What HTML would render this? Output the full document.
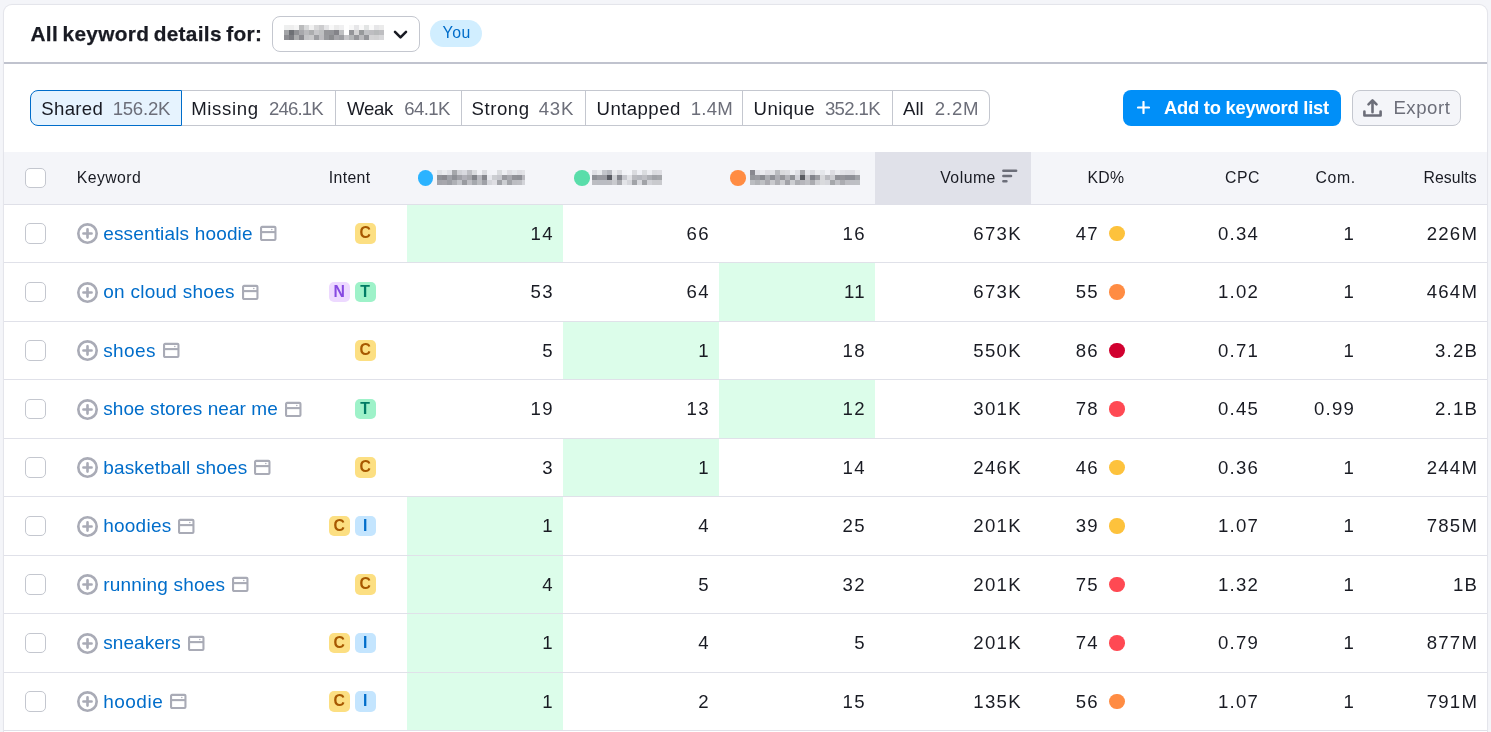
<!DOCTYPE html>
<html lang="en">
<head>
<meta charset="utf-8">
<title>Keyword Gap</title>
<style>
*{box-sizing:border-box;margin:0;padding:0}
html,body{width:1491px;height:732px;overflow:hidden;background:#f4f5f9}
body{font-family:"Liberation Sans",sans-serif;color:#191b23;position:relative}
.card{position:absolute;left:4px;top:5px;width:1483.4px;height:760px;background:#fff;border-radius:8px;box-shadow:0 0 0 1px #e4e5eb,0 0 2px 0 rgba(25,27,35,.08)}
.abs{position:absolute;white-space:nowrap}
.hline{position:absolute;left:0;top:57px;width:100%;height:2px;background:#c0c3ce}
.title{font-weight:700;font-size:20.8px;line-height:24px;letter-spacing:.32px;word-spacing:-1.6px;-webkit-text-stroke:.25px #191b23}
.sel{position:absolute;left:268px;top:11px;width:148px;height:36px;border:1px solid #c4c7cf;border-radius:8px;background:#fff}
.blur{position:absolute;display:block;color:#191b23;filter:url(#px);white-space:nowrap;overflow:hidden}
.you{position:absolute;left:426px;top:15px;width:52px;height:26.6px;border-radius:14px;background:#d1eeff}
.tab{position:absolute;top:85px;height:36px;border:1px solid #c4c7cf;border-left:none;background:#fff}
.tab.first{border:1px solid #006dca;background:#e6f3fe;border-radius:8px 0 0 8px}
.tab.last{border-radius:0 8px 8px 0}
.tt{position:absolute;top:5.7px;font-size:18.6px;line-height:24px;white-space:nowrap}
.tt.n{color:#6c6e79}
.btn{position:absolute;top:85px;height:36px;border-radius:8px}
.btn.add{left:1119px;width:218px;background:#008ff8;color:#fff;font-weight:700}
.btn.exp{left:1348px;width:109px;background:#f4f5f9;border:1px solid #c4c7cf;color:#6c6e79}
.btn svg{position:absolute}
.thead{position:absolute;left:0;top:147px;width:1483.4px;height:53px;background:#f4f5f9;border-bottom:1px solid #dfe0e8}
.th{position:absolute;top:14px;font-size:15.8px;line-height:24px;white-space:nowrap}
.volbg{position:absolute;left:871px;top:0;width:156px;height:52px;background:#e0e1e9}
.row{position:absolute;left:0;width:1483.4px;display:flex;border-bottom:1px solid #e0e1e9}
.c{height:100%;display:flex;align-items:center;flex:none;white-space:nowrap;position:relative}
.cb{width:62.6px}
.kw{width:252px;padding-left:10.4px;font-size:19px;line-height:24px;letter-spacing:.18px}
.intent{width:88.4px}
.num{font-size:18.6px;letter-spacing:1.25px;justify-content:flex-end;padding-right:9.2px;line-height:24px}
.num span{position:relative;top:.1px}
.pos{width:156px}
.vol{width:156px}
.kd{width:104.4px;padding-right:0}
.cpc{width:133px}
.com{width:96px}
.res{width:123px}
.row .hi{background:#dcfdea}
.chk{position:absolute;left:21px;top:50%;margin-top:-10.4px;width:20.6px;height:20.6px;border:1px solid #c4c7cf;border-radius:5px;background:#fff}
.plus{width:21px;height:21px;flex:none;margin-right:5.2px}
.serp{width:21px;height:21px;flex:none;margin-left:5px}
.lnk{color:#006dca;position:relative;top:0}
.ins{position:absolute;right:31.4px;top:50%;margin-top:-10.4px;display:flex;gap:5.2px}
.in{width:20.8px;height:20.8px;border-radius:5px;font-size:15.8px;font-weight:700;line-height:19.6px;text-align:center;letter-spacing:0}
.in-C{background:#fcdf82;color:#a75800}
.in-N{background:#edd9ff;color:#8649e1}
.in-T{background:#9ef2c9;color:#007c65}
.in-I{background:#c4e5fe;color:#006dca}
.dot{width:15.6px;height:15.6px;border-radius:50%;margin-left:10.5px;margin-right:10.4px;flex:none}
.k-y{background:#fdc23c}.k-o{background:#ff8c43}.k-r{background:#ff4953}.k-d{background:#d1002f}
.cd{position:absolute;top:18px;width:15.6px;height:15.6px;border-radius:50%}
</style>
</head>
<body>
<svg width="0" height="0" style="position:absolute"><defs><filter id="px" x="0" y="0" width="1" height="1" color-interpolation-filters="sRGB"><feGaussianBlur stdDeviation="1.7" result="b"/><feFlood x="2" y="2" width="1" height="1"/><feComposite width="5" height="5"/><feTile result="t"/><feComposite in="b" in2="t" operator="in"/><feMorphology operator="dilate" radius="2"/><feComponentTransfer><feFuncA type="linear" slope="1.25"/></feComponentTransfer></filter></defs></svg>
<div class="card">
<div class="abs title" style="left:26.5px;top:16.5px">All keyword details for:</div>
<div class="sel"><span class="blur" style="left:11px;top:3px;width:100px;height:30px;font-size:18.2px;line-height:27px;letter-spacing:1.1px">adidas.com</span><svg style="position:absolute;left:119.5px;top:12.7px;width:15px;height:10px" viewBox="0 0 15 10"><path d="M2 1.9l5.5 5.5L13 1.9" fill="none" stroke="#191b23" stroke-width="2.6" stroke-linecap="round" stroke-linejoin="round"/></svg></div>
<div class="you"><span class="abs" style="left:12.6px;top:1px;font-size:15.8px;line-height:24px;color:#006dca;letter-spacing:.5px">You</span></div>
<div class="hline"></div>
<div class="tab first" style="left:26.0px;width:152.0px"><span class="tt" style="left:10.3px;letter-spacing:0.30px">Shared</span><span class="tt n" style="left:81.7px;letter-spacing:-0.25px">156.2K</span></div>
<div class="tab" style="left:178.0px;width:154.0px"><span class="tt" style="left:9.2px;letter-spacing:0.65px">Missing</span><span class="tt n" style="left:87.0px;letter-spacing:-0.85px">246.1K</span></div>
<div class="tab" style="left:332.0px;width:126.0px"><span class="tt" style="left:11.0px;letter-spacing:-0.30px">Weak</span><span class="tt n" style="left:68.3px;letter-spacing:-0.60px">64.1K</span></div>
<div class="tab" style="left:458.0px;width:124.0px"><span class="tt" style="left:9.5px;letter-spacing:0.55px">Strong</span><span class="tt n" style="left:76.8px;letter-spacing:0.70px">43K</span></div>
<div class="tab" style="left:582.0px;width:157.0px"><span class="tt" style="left:10.5px;letter-spacing:0.45px">Untapped</span><span class="tt n" style="left:104.8px;letter-spacing:0.20px">1.4M</span></div>
<div class="tab" style="left:739.0px;width:150.0px"><span class="tt" style="left:10.6px;letter-spacing:0.40px">Unique</span><span class="tt n" style="left:81.9px;letter-spacing:-0.65px">352.1K</span></div>
<div class="tab last" style="left:889.0px;width:97.0px"><span class="tt" style="left:9.9px;letter-spacing:0.10px">All</span><span class="tt n" style="left:41.8px;letter-spacing:0.80px">2.2M</span></div>
<div class="btn add"><svg style="left:14px;top:10.8px;width:13px;height:13px" viewBox="0 0 13 13"><path d="M6.5 1v11M1 6.5h11" stroke="#fff" stroke-width="2.2" stroke-linecap="round"/></svg><span class="abs" style="left:41px;top:6px;font-size:18.4px;line-height:24px;letter-spacing:-.25px">Add to keyword list</span></div>
<div class="btn exp"><svg style="left:9.4px;top:5.6px;width:21px;height:21px" viewBox="0 0 21 21"><path d="M2.4 14.6v3.9h16.2v-3.9M10.5 15.2V3.8M6.5 7.3l4-4 4 4" fill="none" stroke="#6c6e79" stroke-width="2.6" stroke-linecap="round" stroke-linejoin="round"/></svg><span class="abs" style="left:40.4px;top:4.7px;font-size:18.6px;line-height:24px;letter-spacing:.55px">Export</span></div>
<div class="thead"><div class="volbg"></div><span class="chk" style="top:26px"></span>
<span class="th" style="left:72.7px;letter-spacing:0.45px">Keyword</span>
<span class="th" style="left:324.8px;letter-spacing:0.35px">Intent</span>
<span class="cd" style="left:413.8px;background:#2bb3ff"></span><span class="blur" style="left:433px;top:13px;width:88px;height:25px;font-size:15.8px;line-height:25px;letter-spacing:1.0px">adidas.com</span>
<span class="cd" style="left:570.0px;background:#59ddaa"></span><span class="blur" style="left:588px;top:13px;width:70px;height:25px;font-size:15.8px;line-height:25px;letter-spacing:1.1px">nike.com</span>
<span class="cd" style="left:726.0px;background:#ff8c43"></span><span class="blur" style="left:746px;top:13px;width:110px;height:25px;font-size:15.8px;line-height:25px;letter-spacing:0.5px">footlocker.com</span>
<span class="th" style="left:936.2px;letter-spacing:0.50px">Volume</span>
<svg style="position:absolute;left:998.3px;top:17.1px;width:18px;height:15px" viewBox="0 0 18 15"><path d="M1.4 1.7h12.7M1.4 7h7.6M1.4 12.3h3" stroke="#6c6e79" stroke-width="2.6" stroke-linecap="round"/></svg>
<span class="th" style="left:1083.4px;letter-spacing:0.30px">KD%</span>
<span class="th" style="left:1221.1px;letter-spacing:0.50px">CPC</span>
<span class="th" style="left:1311.5px;letter-spacing:0.65px">Com.</span>
<span class="th" style="left:1419.4px;letter-spacing:0.10px">Results</span>
</div>
<div class="row" style="top:200px;height:58px"><div class="c cb"><span class="chk"></span></div><div class="c kw"><svg class="plus" viewBox="0 0 16 16"><circle cx="8" cy="8" r="7" fill="none" stroke="#a9abb6" stroke-width="2"/><path d="M8 4.9v6.2M4.9 8h6.2" stroke="#a9abb6" stroke-width="2" stroke-linecap="round" fill="none"/></svg><a class="lnk" style="letter-spacing:0.16px">essentials hoodie</a><svg class="serp" viewBox="0 0 21 21"><rect x="3.05" y="3.85" width="14.4" height="13.2" rx="1" fill="none" stroke="#a9abb6" stroke-width="2.1"/><path d="M3 9.1h14.5" stroke="#a9abb6" stroke-width="2.1" fill="none"/><circle cx="13.8" cy="6.4" r="0.75" fill="#a9abb6"/></svg></div><div class="c intent"><span class="ins"><span class="in in-C">C</span></span></div><div class="c num pos hi"><span>14</span></div><div class="c num pos"><span>66</span></div><div class="c num pos"><span>16</span></div><div class="c num vol"><span>673K</span></div><div class="c num kd"><span>47</span><i class="dot k-y"></i></div><div class="c num cpc"><span>0.34</span></div><div class="c num com"><span>1</span></div><div class="c num res"><span>226M</span></div></div>
<div class="row" style="top:258px;height:59px"><div class="c cb"><span class="chk"></span></div><div class="c kw"><svg class="plus" viewBox="0 0 16 16"><circle cx="8" cy="8" r="7" fill="none" stroke="#a9abb6" stroke-width="2"/><path d="M8 4.9v6.2M4.9 8h6.2" stroke="#a9abb6" stroke-width="2" stroke-linecap="round" fill="none"/></svg><a class="lnk" style="letter-spacing:0.27px">on cloud shoes</a><svg class="serp" viewBox="0 0 21 21"><rect x="3.05" y="3.85" width="14.4" height="13.2" rx="1" fill="none" stroke="#a9abb6" stroke-width="2.1"/><path d="M3 9.1h14.5" stroke="#a9abb6" stroke-width="2.1" fill="none"/><circle cx="13.8" cy="6.4" r="0.75" fill="#a9abb6"/></svg></div><div class="c intent"><span class="ins"><span class="in in-N">N</span><span class="in in-T">T</span></span></div><div class="c num pos"><span>53</span></div><div class="c num pos"><span>64</span></div><div class="c num pos hi"><span>11</span></div><div class="c num vol"><span>673K</span></div><div class="c num kd"><span>55</span><i class="dot k-o"></i></div><div class="c num cpc"><span>1.02</span></div><div class="c num com"><span>1</span></div><div class="c num res"><span>464M</span></div></div>
<div class="row" style="top:317px;height:58px"><div class="c cb"><span class="chk"></span></div><div class="c kw"><svg class="plus" viewBox="0 0 16 16"><circle cx="8" cy="8" r="7" fill="none" stroke="#a9abb6" stroke-width="2"/><path d="M8 4.9v6.2M4.9 8h6.2" stroke="#a9abb6" stroke-width="2" stroke-linecap="round" fill="none"/></svg><a class="lnk" style="letter-spacing:0.38px">shoes</a><svg class="serp" viewBox="0 0 21 21"><rect x="3.05" y="3.85" width="14.4" height="13.2" rx="1" fill="none" stroke="#a9abb6" stroke-width="2.1"/><path d="M3 9.1h14.5" stroke="#a9abb6" stroke-width="2.1" fill="none"/><circle cx="13.8" cy="6.4" r="0.75" fill="#a9abb6"/></svg></div><div class="c intent"><span class="ins"><span class="in in-C">C</span></span></div><div class="c num pos"><span>5</span></div><div class="c num pos hi"><span>1</span></div><div class="c num pos"><span>18</span></div><div class="c num vol"><span>550K</span></div><div class="c num kd"><span>86</span><i class="dot k-d"></i></div><div class="c num cpc"><span>0.71</span></div><div class="c num com"><span>1</span></div><div class="c num res"><span>3.2B</span></div></div>
<div class="row" style="top:375px;height:59px"><div class="c cb"><span class="chk"></span></div><div class="c kw"><svg class="plus" viewBox="0 0 16 16"><circle cx="8" cy="8" r="7" fill="none" stroke="#a9abb6" stroke-width="2"/><path d="M8 4.9v6.2M4.9 8h6.2" stroke="#a9abb6" stroke-width="2" stroke-linecap="round" fill="none"/></svg><a class="lnk" style="letter-spacing:0.08px">shoe stores near me</a><svg class="serp" viewBox="0 0 21 21"><rect x="3.05" y="3.85" width="14.4" height="13.2" rx="1" fill="none" stroke="#a9abb6" stroke-width="2.1"/><path d="M3 9.1h14.5" stroke="#a9abb6" stroke-width="2.1" fill="none"/><circle cx="13.8" cy="6.4" r="0.75" fill="#a9abb6"/></svg></div><div class="c intent"><span class="ins"><span class="in in-T">T</span></span></div><div class="c num pos"><span>19</span></div><div class="c num pos"><span>13</span></div><div class="c num pos hi"><span>12</span></div><div class="c num vol"><span>301K</span></div><div class="c num kd"><span>78</span><i class="dot k-r"></i></div><div class="c num cpc"><span>0.45</span></div><div class="c num com"><span>0.99</span></div><div class="c num res"><span>2.1B</span></div></div>
<div class="row" style="top:434px;height:58px"><div class="c cb"><span class="chk"></span></div><div class="c kw"><svg class="plus" viewBox="0 0 16 16"><circle cx="8" cy="8" r="7" fill="none" stroke="#a9abb6" stroke-width="2"/><path d="M8 4.9v6.2M4.9 8h6.2" stroke="#a9abb6" stroke-width="2" stroke-linecap="round" fill="none"/></svg><a class="lnk" style="letter-spacing:0.17px">basketball shoes</a><svg class="serp" viewBox="0 0 21 21"><rect x="3.05" y="3.85" width="14.4" height="13.2" rx="1" fill="none" stroke="#a9abb6" stroke-width="2.1"/><path d="M3 9.1h14.5" stroke="#a9abb6" stroke-width="2.1" fill="none"/><circle cx="13.8" cy="6.4" r="0.75" fill="#a9abb6"/></svg></div><div class="c intent"><span class="ins"><span class="in in-C">C</span></span></div><div class="c num pos"><span>3</span></div><div class="c num pos hi"><span>1</span></div><div class="c num pos"><span>14</span></div><div class="c num vol"><span>246K</span></div><div class="c num kd"><span>46</span><i class="dot k-y"></i></div><div class="c num cpc"><span>0.36</span></div><div class="c num com"><span>1</span></div><div class="c num res"><span>244M</span></div></div>
<div class="row" style="top:492px;height:59px"><div class="c cb"><span class="chk"></span></div><div class="c kw"><svg class="plus" viewBox="0 0 16 16"><circle cx="8" cy="8" r="7" fill="none" stroke="#a9abb6" stroke-width="2"/><path d="M8 4.9v6.2M4.9 8h6.2" stroke="#a9abb6" stroke-width="2" stroke-linecap="round" fill="none"/></svg><a class="lnk" style="letter-spacing:0.25px">hoodies</a><svg class="serp" viewBox="0 0 21 21"><rect x="3.05" y="3.85" width="14.4" height="13.2" rx="1" fill="none" stroke="#a9abb6" stroke-width="2.1"/><path d="M3 9.1h14.5" stroke="#a9abb6" stroke-width="2.1" fill="none"/><circle cx="13.8" cy="6.4" r="0.75" fill="#a9abb6"/></svg></div><div class="c intent"><span class="ins"><span class="in in-C">C</span><span class="in in-I">I</span></span></div><div class="c num pos hi"><span>1</span></div><div class="c num pos"><span>4</span></div><div class="c num pos"><span>25</span></div><div class="c num vol"><span>201K</span></div><div class="c num kd"><span>39</span><i class="dot k-y"></i></div><div class="c num cpc"><span>1.07</span></div><div class="c num com"><span>1</span></div><div class="c num res"><span>785M</span></div></div>
<div class="row" style="top:551px;height:58px"><div class="c cb"><span class="chk"></span></div><div class="c kw"><svg class="plus" viewBox="0 0 16 16"><circle cx="8" cy="8" r="7" fill="none" stroke="#a9abb6" stroke-width="2"/><path d="M8 4.9v6.2M4.9 8h6.2" stroke="#a9abb6" stroke-width="2" stroke-linecap="round" fill="none"/></svg><a class="lnk" style="letter-spacing:0.21px">running shoes</a><svg class="serp" viewBox="0 0 21 21"><rect x="3.05" y="3.85" width="14.4" height="13.2" rx="1" fill="none" stroke="#a9abb6" stroke-width="2.1"/><path d="M3 9.1h14.5" stroke="#a9abb6" stroke-width="2.1" fill="none"/><circle cx="13.8" cy="6.4" r="0.75" fill="#a9abb6"/></svg></div><div class="c intent"><span class="ins"><span class="in in-C">C</span></span></div><div class="c num pos hi"><span>4</span></div><div class="c num pos"><span>5</span></div><div class="c num pos"><span>32</span></div><div class="c num vol"><span>201K</span></div><div class="c num kd"><span>75</span><i class="dot k-r"></i></div><div class="c num cpc"><span>1.32</span></div><div class="c num com"><span>1</span></div><div class="c num res"><span>1B</span></div></div>
<div class="row" style="top:609px;height:59px"><div class="c cb"><span class="chk"></span></div><div class="c kw"><svg class="plus" viewBox="0 0 16 16"><circle cx="8" cy="8" r="7" fill="none" stroke="#a9abb6" stroke-width="2"/><path d="M8 4.9v6.2M4.9 8h6.2" stroke="#a9abb6" stroke-width="2" stroke-linecap="round" fill="none"/></svg><a class="lnk" style="letter-spacing:0.07px">sneakers</a><svg class="serp" viewBox="0 0 21 21"><rect x="3.05" y="3.85" width="14.4" height="13.2" rx="1" fill="none" stroke="#a9abb6" stroke-width="2.1"/><path d="M3 9.1h14.5" stroke="#a9abb6" stroke-width="2.1" fill="none"/><circle cx="13.8" cy="6.4" r="0.75" fill="#a9abb6"/></svg></div><div class="c intent"><span class="ins"><span class="in in-C">C</span><span class="in in-I">I</span></span></div><div class="c num pos hi"><span>1</span></div><div class="c num pos"><span>4</span></div><div class="c num pos"><span>5</span></div><div class="c num vol"><span>201K</span></div><div class="c num kd"><span>74</span><i class="dot k-r"></i></div><div class="c num cpc"><span>0.79</span></div><div class="c num com"><span>1</span></div><div class="c num res"><span>877M</span></div></div>
<div class="row" style="top:668px;height:58px"><div class="c cb"><span class="chk"></span></div><div class="c kw"><svg class="plus" viewBox="0 0 16 16"><circle cx="8" cy="8" r="7" fill="none" stroke="#a9abb6" stroke-width="2"/><path d="M8 4.9v6.2M4.9 8h6.2" stroke="#a9abb6" stroke-width="2" stroke-linecap="round" fill="none"/></svg><a class="lnk" style="letter-spacing:0.5px">hoodie</a><svg class="serp" viewBox="0 0 21 21"><rect x="3.05" y="3.85" width="14.4" height="13.2" rx="1" fill="none" stroke="#a9abb6" stroke-width="2.1"/><path d="M3 9.1h14.5" stroke="#a9abb6" stroke-width="2.1" fill="none"/><circle cx="13.8" cy="6.4" r="0.75" fill="#a9abb6"/></svg></div><div class="c intent"><span class="ins"><span class="in in-C">C</span><span class="in in-I">I</span></span></div><div class="c num pos hi"><span>1</span></div><div class="c num pos"><span>2</span></div><div class="c num pos"><span>15</span></div><div class="c num vol"><span>135K</span></div><div class="c num kd"><span>56</span><i class="dot k-o"></i></div><div class="c num cpc"><span>1.07</span></div><div class="c num com"><span>1</span></div><div class="c num res"><span>791M</span></div></div>
</div>
</body>
</html>
